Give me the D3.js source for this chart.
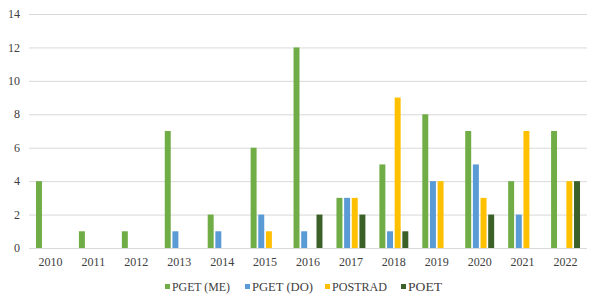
<!DOCTYPE html>
<html>
<head>
<meta charset="utf-8">
<script src="https://cdn.jsdelivr.net/npm/d3@7"></script>
<style>
  body { margin: 0; background: #fff; }
</style>
</head>
<body>
<div class="canvas"></div>
<script>
const years = ["2010", "2011", "2012", "2013", "2014", "2015", "2016",
  "2017", "2018", "2019", "2020", "2021", "2022"];
const seriesNames = ["PGET (ME)", "PGET (DO)", "POSTRAD", "POET"];
const pgetMe  = [4, 1, 1, 7, 2, 6, 12, 3, 5, 8, 7, 4, 7];
const pgetDo  = [0, 0, 0, 1, 1, 2, 1, 3, 1, 4, 5, 2, 0];
const postrad = [0, 0, 0, 0, 0, 1, 0, 3, 9, 4, 3, 7, 4];
const poet    = [0, 0, 0, 0, 0, 0, 2, 2, 1, 0, 2, 0, 4];
const yTicks = [0, 2, 4, 6, 8, 10, 12, 14];
const colours = ["#70AD47", "#5B9BD5", "#FFC000", "#3b6128"];

const allSeries = [pgetMe, pgetDo, postrad, poet];
const font = "'Liberation Serif', 'Times New Roman', serif";

const width = 600, height = 305;
const margin = {top: 14, right: 13, bottom: 57, left: 29};
const graphWidth = width - margin.left - margin.right;
const graphHeight = height - margin.top - margin.bottom;

const svg = d3.select('.canvas')
  .append('svg')
  .attr('width', width)
  .attr('height', height)
  .style('font-family', font);

const graph = svg.append('g')
  .attr('transform', `translate(${margin.left}, ${margin.top})`);

const x0 = d3.scaleBand().domain(years).range([0, graphWidth]).padding(0);
const x1 = d3.scaleBand().domain(seriesNames)
  .range([7, x0.bandwidth() - 7])
  .paddingInner(0.22).paddingOuter(0);
const y = d3.scaleLinear().domain([0, 14]).range([graphHeight, 0]);

// gridlines
graph.append('g')
  .selectAll('line')
  .data(yTicks)
  .enter().append('line')
  .attr('x1', 0).attr('x2', graphWidth)
  .attr('y1', d => y(d) + 0.5).attr('y2', d => y(d) + 0.5)
  .attr('stroke', '#d9d9d9')
  .attr('stroke-width', 1);

// y labels
graph.append('g')
  .selectAll('text')
  .data(yTicks)
  .enter().append('text')
  .attr('x', -9)
  .attr('y', d => y(d))
  .attr('dy', '0.35em')
  .attr('text-anchor', 'end')
  .style('font-family', font)
  .style('font-size', '12px')
  .style('fill', '#404040')
  .text(d => d);

// x labels
graph.append('g')
  .selectAll('text')
  .data(years)
  .enter().append('text')
  .attr('x', d => x0(d) + x0.bandwidth() / 2)
  .attr('y', graphHeight + 18)
  .attr('text-anchor', 'middle')
  .style('font-family', font)
  .style('font-size', '12px')
  .style('fill', '#404040')
  .text(d => d);

// bars
const groups = graph.append('g')
  .selectAll('g')
  .data(years)
  .enter().append('g')
  .attr('transform', d => `translate(${x0(d)}, 0)`);

groups.selectAll('rect')
  .data((d, i) => seriesNames.map((s, j) => ({s, v: allSeries[j][i], c: colours[j]})))
  .enter().append('rect')
  .attr('x', d => x1(d.s))
  .attr('width', x1.bandwidth())
  .attr('y', d => y(d.v))
  .attr('height', d => y(0) - y(d.v))
  .attr('fill', d => d.c);

// legend
const legendX = [165, 245, 325, 401];
const legend = svg.append('g')
  .selectAll('g')
  .data(seriesNames)
  .enter().append('g')
  .attr('transform', (d, i) => `translate(${legendX[i]}, 287)`);

legend.append('rect')
  .attr('x', 0).attr('y', -3)
  .attr('width', 5).attr('height', 5)
  .attr('fill', (d, i) => colours[i]);

legend.append('text')
  .attr('x', 7)
  .attr('y', 0)
  .attr('dy', '0.35em')
  .style('font-family', font)
  .style('font-size', '12px')
  .style('fill', '#404040')
  .attr('textLength', (d, i) => [58, 61, 55, 34][i])
  .attr('lengthAdjust', 'spacingAndGlyphs')
  .text(d => d);
</script>
</body>
</html>
